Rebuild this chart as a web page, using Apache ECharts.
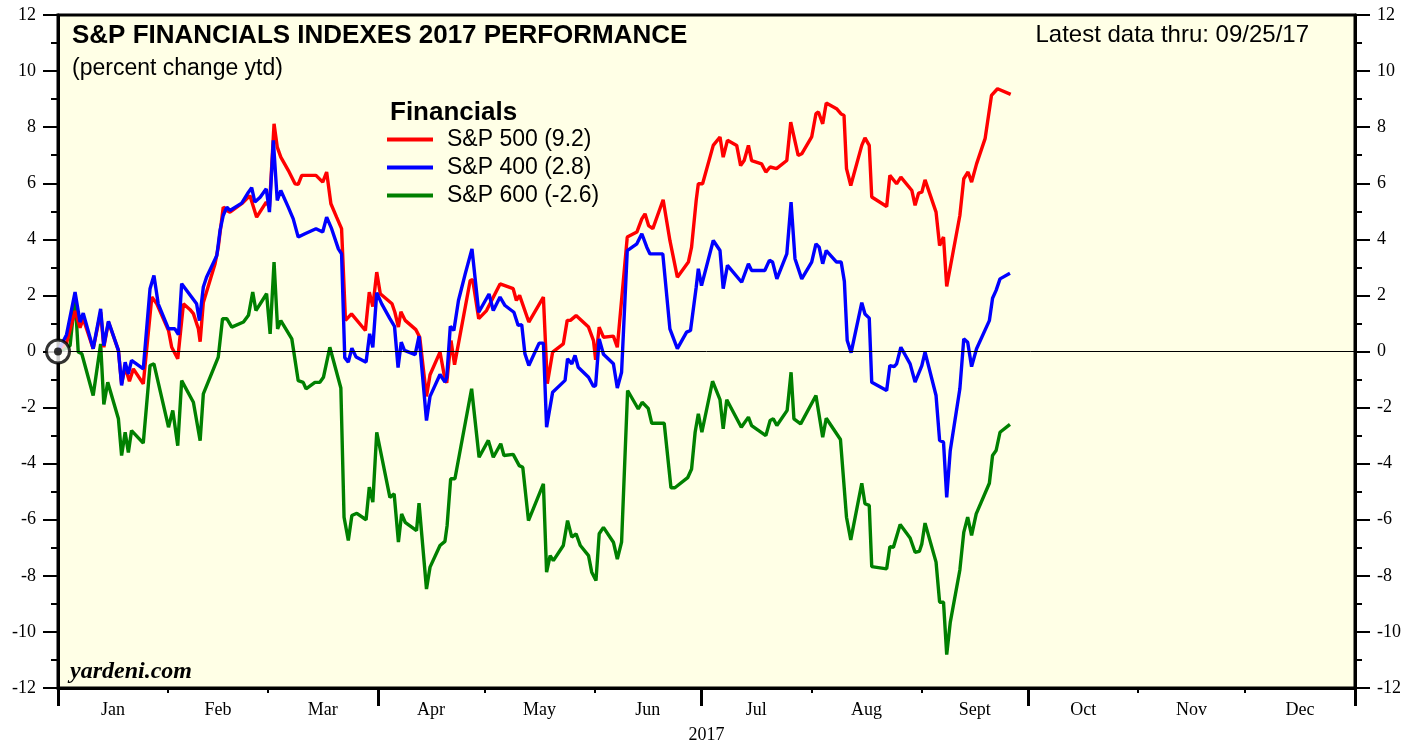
<!DOCTYPE html>
<html>
<head>
<meta charset="utf-8">
<title>S&amp;P Financials Indexes 2017 Performance</title>
<script src="https://cdn.jsdelivr.net/npm/echarts@6/dist/echarts.min.js"></script>
<style>
  html, body { margin: 0; padding: 0; background: #fff; }
  #chart { width: 1419px; height: 744px; }
</style>
</head>
<body>
<div id="chart"></div>
<script>
// x = day of 2017 (0 = start of year), y = percent change ytd
var sp500Days = [0, 2.4, 4.8, 6.2, 7.1, 9.9, 12, 12.9, 14.2, 17, 17.9, 18.9, 20.1, 21.2, 24, 26.4, 27.8, 31.1, 32, 33.7,
  35.3, 37.1, 38.1, 39.5, 40, 40.9, 44.2, 45.1, 46.5, 47.5, 48.4, 51.7, 54, 55.9, 58.6, 59.5, 60.8, 61.7, 62.7, 64.8,
  66.7, 67.6, 68.6, 72.6, 74.5, 75.6, 76.8, 78.4, 79.8, 80.9, 82.6, 86.5, 87.6, 88.6, 89.7, 90.7, 94, 94.8, 95.8, 96.5,
  97.7, 100.7, 101.8, 103.7, 104.7, 107.5, 108.8, 109.4, 110.6, 111.6, 116, 116.7, 118.4, 120.6, 124.4, 128.1, 129, 129.9, 132.5, 136.6,
  137.7, 139.2, 142.2, 143.3, 144.2, 145.8, 149.3, 150.7, 151.3, 152.3, 153.5, 156.3, 157.4, 160.2, 162.9, 164.3, 165.2, 166.2, 167.4, 170.3,
  172.2, 174.3, 177.4, 178.3, 179.6, 180.2, 181.4, 184.4, 186.3, 187.2, 188.4, 191, 192.1, 193.1, 194.3, 195.2, 198, 199.2, 200.4, 202.2,
  205.1, 206.2, 208.3, 209.3, 212.1, 213.3, 214, 215.2, 216.2, 219.1, 220.3, 221.2, 221.9, 223.1, 226.2, 227.1, 228.3, 229, 233.2, 234.1,
  236, 237.2, 240.3, 241.2, 242.2, 243.1, 244, 247.1, 248.1, 249.2, 250.1, 253.8, 254.9, 256.1, 257.1, 258.5, 260.9, 262.7, 264.4, 268.1];
var sp500Pct = [0, 0.3, 1.45, 0.85, 1.17, 0.1, 1.4, 0.15, 1.05, 0.04, -1.15, -0.56, -1.06, -0.62, -1.15, 1.94, 1.7, 0.75, 0.15, -0.26,
  1.7, 1.5, 1.35, 0.81, 0.35, 1.75, 3.13, 3.72, 5.15, 5.03, 4.97, 5.27, 5.56, 4.79, 5.33, 5.15, 8.12, 7.29, 6.93, 6.46,
  5.98, 5.96, 6.28, 6.28, 6.04, 6.4, 5.27, 4.79, 4.38, 1.11, 1.34, 0.75, 2.12, 1.6, 2.83, 2.06, 1.7, 1.4, 0.87, 1.42,
  1.11, 0.78, 0.51, -1.6, -0.83, -0.02, -0.92, -1.12, 0.39, -0.47, 2.53, 2.56, 1.17, 1.46, 2.41, 2.24, 1.82, 2.0, 1.05, 1.94,
  -1.15, -0.02, 0.27, 1.11, 1.11, 1.28, 0.87, 0.39, -0.3, 0.87, 0.51, 0.55, 0.15, 4.08, 4.26, 4.73, 4.91, 4.49, 4.38, 5.41,
  3.96, 2.65, 3.19, 3.72, 5.39, 5.98, 5.98, 7.35, 7.65, 6.93, 7.53, 7.35, 6.63, 6.81, 7.35, 6.81, 6.69, 6.4, 6.58, 6.52,
  6.81, 8.18, 6.99, 7.05, 7.65, 8.48, 8.54, 8.12, 8.86, 8.66, 8.48, 8.42, 6.52, 5.92, 7.35, 7.62, 7.35, 5.51, 5.17, 6.28,
  5.98, 6.22, 5.74, 5.21, 5.65, 5.68, 6.12, 4.97, 3.78, 4.08, 2.32, 4.85, 6.16, 6.4, 6.04, 6.69, 7.59, 9.13, 9.37, 9.17];

var sp400Days = [0, 2.4, 4.8, 6.2, 7.1, 9.9, 12, 12.9, 14.2, 17, 17.9, 18.9, 19.8, 20.7, 24, 25.9, 27, 28.2, 31.1, 32.9,
  33.9, 34.8, 39, 39.8, 40.9, 41.8, 44.7, 45.6, 46.5, 47.5, 48.4, 51.7, 53.6, 54.5, 55.4, 56.9, 58.6, 59.5, 60.6, 61.7,
  62.7, 64.8, 66.2, 67.6, 69.5, 72.6, 74.5, 75.6, 77, 78.9, 79.8, 80.7, 81.7, 82.7, 83.9, 86.7, 87.7, 88.6, 89.7, 91.1,
  93.4, 94.7, 95.7, 96.6, 97.5, 100.5, 101.6, 103.7, 104.7, 107.5, 108.9, 109.4, 110.4, 111.4, 112.7, 114.6, 116.5, 118.4, 121.3, 122.5,
  124.4, 125.8, 128.3, 129.5, 130.5, 131.4, 132.5, 135.4, 136.6, 137.5, 139.2, 142.7, 143.4, 144.6, 145.5, 146.4, 149.3, 150.7, 151.3, 152.3,
  153.5, 156.3, 157.4, 158.6, 160.2, 162.9, 164.3, 165.7, 166.6, 170.2, 172.2, 174.3, 176.9, 178, 179.6, 180.2, 181.1, 184.4, 186.3, 187.2,
  188.4, 192.4, 194.3, 195.2, 198.9, 200.2, 201.1, 202.3, 205.1, 206.3, 207.4, 209.3, 212.1, 213.3, 214.2, 215.2, 216.2, 219.1, 220.4, 221.3,
  222.1, 223.2, 226.2, 227.1, 228.3, 229, 233.2, 234.1, 235.3, 236, 237.2, 239.8, 241.2, 243.1, 244, 247.1, 248.1, 249.2, 250.1, 251.1,
  253.8, 254.9, 256, 257.1, 258.5, 262.1, 263, 264, 265.1, 267.9];
var sp400Pct = [0, 0.6, 2.12, 1.05, 1.37, 0.1, 1.52, 0.21, 1.08, 0.04, -1.21, -0.38, -0.8, -0.32, -0.62, 2.24, 2.71, 1.7, 0.81, 0.81,
  0.6, 2.42, 1.7, 1.1, 2.3, 2.65, 3.42, 4.32, 4.85, 5.15, 5.03, 5.29, 5.68, 5.84, 5.33, 5.5, 5.8, 4.97, 7.53, 5.39,
  5.74, 5.15, 4.73, 4.08, 4.2, 4.38, 4.26, 4.79, 4.38, 3.66, 3.48, -0.22, -0.38, 0.12, -0.2, -0.38, 0.63, 0.15, 2.1, 1.7,
  1.17, 0.9, -0.57, 0.33, 0.04, -0.11, 0.55, -2.46, -1.6, -0.82, -1.09, -0.92, 0.9, 0.75, 1.82, 2.77, 3.66, 1.4, 2.05, 1.46,
  1.94, 1.64, 1.4, 0.93, 0.96, -0.08, -0.5, 0.3, 0.3, -2.7, -1.45, -1.03, -0.26, -0.44, -0.14, -0.56, -0.92, -1.25, -1.21, 0.45,
  -0.1, -0.44, -1.3, -0.74, 3.6, 3.84, 4.2, 3.72, 3.48, 3.48, 0.81, 0.1, 0.69, 0.75, 2.29, 2.95, 2.35, 3.96, 3.6, 2.24,
  3.07, 2.47, 3.13, 2.89, 2.89, 3.25, 3.19, 2.59, 3.48, 5.33, 3.31, 2.59, 3.19, 3.84, 3.72, 3.13, 3.6, 3.19, 3.19, 2.5,
  0.39, -0.04, 1.74, 1.34, 1.19, -1.1, -1.39, -0.5, -0.54, -0.44, 0.15, -0.44, -1.09, -0.5, -0.02, -1.57, -3.17, -3.23, -5.2, -3.53,
  -1.33, 0.45, 0.33, -0.54, 0.1, 1.1, 1.9, 2.18, 2.59, 2.79];

var sp600Days = [0, 2.4, 3.4, 4.8, 5.7, 6.7, 9.9, 12, 12.9, 14, 17, 17.9, 18.9, 19.8, 20.7, 24, 25.9, 27, 31.1, 32.3,
  33.7, 34.8, 38.1, 40, 40.9, 45.1, 46.3, 47.5, 48.9, 52.2, 53.6, 54.8, 55.7, 58.7, 59.7, 60.8, 61.8, 62.7, 65.8, 67.6,
  69, 69.8, 72.3, 73.7, 74.7, 76.5, 79.6, 80.5, 81.7, 82.7, 84.1, 86.7, 87.6, 88.6, 89.7, 93.4, 94.6, 95.8, 96.7, 97.7,
  100.9, 101.6, 103.7, 104.7, 107.5, 108.9, 109.5, 110.5, 111.7, 116.4, 118.5, 121.1, 122.5, 124.6, 125.5, 128.1, 129.8, 130.8, 132.4, 136.6,
  137.5, 138.5, 139.4, 142.2, 143.4, 144.6, 145.8, 147, 149.3, 150.2, 151.4, 152.3, 153.5, 156.3, 157.4, 158.6, 160.3, 163.3, 164.4, 166.1,
  167.1, 170.6, 172.5, 173.6, 177.2, 178.3, 179.3, 180.2, 181.2, 184.2, 186.3, 187.2, 188.2, 192.3, 194.3, 195.2, 199.2, 200.4, 201.3, 202.3,
  205.2, 206.3, 207.1, 209, 213.3, 215.2, 216.2, 220.2, 221.9, 223.1, 226.2, 227.1, 228.3, 229, 233.2, 234.1, 235.1, 237, 239.8, 241.2,
  242.4, 243.1, 244, 247.1, 248.1, 249.2, 250.1, 251.1, 253.8, 254.9, 256, 257.1, 258.4, 262.1, 263, 264, 265.1, 267.9];
var sp600Pct = [0, 0.12, 0.21, 1.94, -0.02, -0.08, -1.57, 0.27, -1.89, -1.1, -2.4, -3.71, -2.88, -3.6, -2.82, -3.27, -0.5, -0.44, -2.7, -2.1,
  -3.36, -1.04, -1.81, -3.18, -1.51, -0.2, 1.17, 1.17, 0.87, 1.05, 1.29, 2.12, 1.46, 2.06, 0.63, 3.19, 0.81, 1.1, 0.45, -1.04,
  -1.1, -1.33, -1.1, -1.1, -0.92, 0.15, -1.3, -5.91, -6.74, -5.85, -5.77, -6.0, -4.84, -5.37, -2.88, -5.2, -5.08, -6.8, -5.79, -6.09,
  -6.39, -5.41, -8.47, -7.69, -6.92, -6.77, -6.21, -4.54, -4.54, -1.33, -3.77, -3.17, -3.77, -3.29, -3.71, -3.67, -4.07, -4.13, -6.03, -4.72,
  -7.87, -7.28, -7.46, -6.92, -6.03, -6.62, -6.5, -6.92, -7.28, -7.87, -8.17, -6.5, -6.27, -6.8, -7.4, -6.8, -1.39, -2.05, -1.81, -2.03,
  -2.56, -2.56, -4.86, -4.86, -4.5, -4.19, -2.88, -2.22, -2.88, -1.06, -1.72, -2.76, -1.72, -2.7, -2.34, -2.64, -3.0, -2.46, -2.4, -2.64,
  -2.1, -0.74, -2.4, -2.58, -1.57, -3.06, -2.38, -3.14, -5.91, -6.72, -4.7, -5.43, -5.49, -7.67, -7.75, -6.96, -6.98, -6.17, -6.65, -7.16,
  -7.13, -6.86, -6.12, -7.51, -8.94, -8.94, -10.81, -9.66, -7.79, -6.45, -5.91, -6.56, -5.79, -4.7, -3.71, -3.53, -2.88, -2.6];

var monthNames = ['Jan', 'Feb', 'Mar', 'Apr', 'May', 'Jun', 'Jul', 'Aug', 'Sept', 'Oct', 'Nov', 'Dec'];
var monthStarts = [0, 31, 59, 90, 120, 151, 181, 212, 243, 273, 304, 334, 365];
var quarterStarts = [0, 90, 181, 273, 365];
var seriesNames = ['S&P 500 (9.2)', 'S&P 400 (2.8)', 'S&P 600 (-2.6)'];

function pairs(xs, ys) {
    return xs.map(function (x, i) { return [x, ys[i]]; });
}
var monthMids = monthNames.map(function (m, i) { return (monthStarts[i] + monthStarts[i + 1]) / 2; });

var sans = 'Liberation Sans';
var serif = 'Liberation Serif';

var yAxisBase = {
    type: 'value',
    min: -12,
    max: 12,
    interval: 2,
    axisLine: { show: true, onZero: false, lineStyle: { color: '#000', width: 3 } },
    axisTick: { show: true, length: 15, lineStyle: { color: '#000', width: 2 } },
    minorTick: { show: true, splitNumber: 2, length: 7, lineStyle: { color: '#000', width: 2 } },
    axisLabel: { color: '#000', fontFamily: serif, fontSize: 18, margin: 22 },
    splitLine: { show: false }
};

var chart = echarts.init(document.getElementById('chart'));
chart.setOption({
    animation: false,
    backgroundColor: '#fff',
    title: [
        { text: 'S&P FINANCIALS INDEXES 2017 PERFORMANCE', left: 72, top: 23, padding: 0,
          textStyle: { fontFamily: sans, fontWeight: 'bold', fontSize: 26, color: '#000' } },
        { text: '(percent change ytd)', left: 72, top: 57, padding: 0,
          textStyle: { fontFamily: sans, fontWeight: 'normal', fontSize: 23, color: '#000' } },
        { text: 'Latest data thru: 09/25/17', right: 110, top: 23, padding: 0,
          textStyle: { fontFamily: sans, fontWeight: 'normal', fontSize: 24, color: '#000' } },
        { text: 'Financials', left: 390, top: 100, padding: 0,
          textStyle: { fontFamily: sans, fontWeight: 'bold', fontSize: 26, color: '#000' } },
        { text: 'yardeni.com', left: 70, top: 660, padding: 0,
          textStyle: { fontFamily: serif, fontStyle: 'italic', fontWeight: 'bold', fontSize: 24, color: '#000' } }
    ],
    legend: {
        data: seriesNames,
        orient: 'vertical',
        left: 387,
        top: 128,
        padding: 0,
        icon: 'rect',
        itemWidth: 46,
        itemHeight: 4,
        itemGap: 5,
        textStyle: { fontFamily: sans, fontSize: 23, color: '#000', padding: [0, 0, 0, 9] }
    },
    grid: {
        left: 58, right: 64, top: 15, bottom: 56,
        outerBoundsMode: 'none',
        show: true,
        backgroundColor: '#ffffe6',
        borderColor: '#000',
        borderWidth: 3
    },
    xAxis: [
        {
            type: 'value', min: 0, max: 365,
            name: '2017', nameLocation: 'middle', nameGap: 38,
            nameTextStyle: { fontFamily: serif, fontSize: 18, color: '#000' },
            axisLine: { show: true, onZero: false, lineStyle: { color: '#000', width: 3 } },
            axisTick: { show: true, customValues: monthStarts, length: 5, lineStyle: { color: '#000', width: 2 } },
            axisLabel: {
                customValues: monthMids, color: '#000', fontFamily: serif, fontSize: 18, margin: 13,
                formatter: function (v) {
                    var best = 0;
                    monthMids.forEach(function (m, i) { if (Math.abs(m - v) < Math.abs(monthMids[best] - v)) best = i; });
                    return monthNames[best];
                }
            },
            splitLine: { show: false }
        },
        {
            type: 'value', min: 0, max: 365, position: 'bottom',
            axisLine: { show: false, onZero: false },
            axisTick: { show: true, customValues: quarterStarts, length: 18, lineStyle: { color: '#000', width: 3 } },
            axisLabel: { show: false },
            splitLine: { show: false }
        }
    ],
    yAxis: [
        Object.assign({}, yAxisBase, { position: 'left' }),
        Object.assign({}, yAxisBase, { position: 'right' })
    ],
    series: [
        {
            name: seriesNames[0], type: 'line', data: pairs(sp500Days, sp500Pct),
            symbol: 'none', color: '#ff0000', lineStyle: { width: 3.4 }, z: 3
        },
        {
            name: seriesNames[1], type: 'line', data: pairs(sp400Days, sp400Pct),
            symbol: 'none', color: '#0000ff', lineStyle: { width: 3.4 }, z: 4
        },
        {
            name: seriesNames[2], type: 'line', data: pairs(sp600Days, sp600Pct),
            symbol: 'none', color: '#008000', lineStyle: { width: 3.4 }, z: 2,
            markLine: {
                silent: true, symbol: 'none', label: { show: false },
                lineStyle: { color: '#000', width: 1, type: 'solid' },
                data: [{ yAxis: 0 }]
            }
        },
        {
            // start marker ring
            type: 'scatter', data: [[0, 0]], symbolSize: 23, silent: true, z: 10,
            itemStyle: { color: '#fff', borderColor: '#000', borderWidth: 3 }
        },
        {
            type: 'scatter', data: [[0, 0]], symbolSize: 8, silent: true, z: 11,
            itemStyle: { color: '#000' }
        }
    ]
});
</script>
</body>
</html>
